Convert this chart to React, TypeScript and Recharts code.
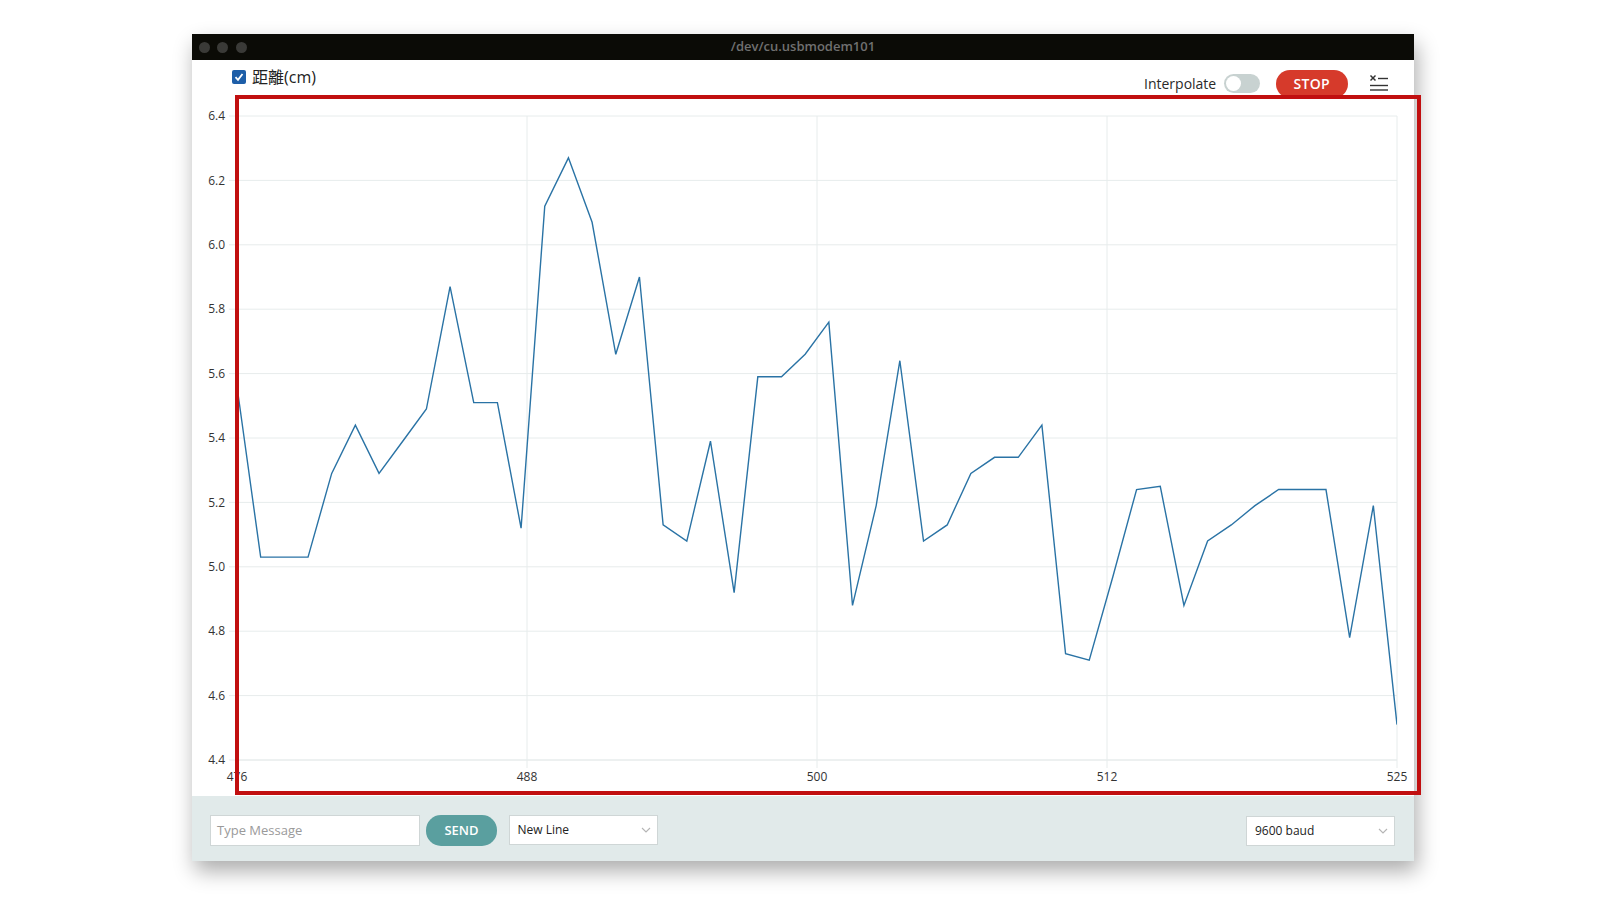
import React from 'react';
import { LineChart, Line, XAxis, YAxis, CartesianGrid } from 'recharts';

const windowTitle = '/dev/cu.usbmodem101';
const seriesName = '距離(cm)';

const xValues = [
  476, 477, 478, 479, 480, 481, 482, 483, 484, 485,
  486, 487, 488, 489, 490, 491, 492, 493, 494, 495,
  496, 497, 498, 499, 500, 501, 502, 503, 504, 505,
  506, 507, 508, 509, 510, 511, 512, 513, 514, 515,
  516, 517, 518, 519, 520, 521, 522, 523, 524, 525,
];

const distanceValues = [
  5.56, 5.03, 5.03, 5.03, 5.29, 5.44, 5.29, 5.39, 5.49, 5.87,
  5.51, 5.51, 5.12, 6.12, 6.27, 6.07, 5.66, 5.9, 5.13, 5.08,
  5.39, 4.92, 5.59, 5.59, 5.66, 5.76, 4.88, 5.19, 5.64, 5.08,
  5.13, 5.29, 5.34, 5.34, 5.44, 4.73, 4.71, 4.97, 5.24, 5.25,
  4.88, 5.08, 5.13, 5.19, 5.24, 5.24, 5.24, 4.78, 5.19, 4.51,
];

const xTicks = [476, 488.25, 500.5, 512.75, 525];
const yTicks = [4.4, 4.6, 4.8, 5.0, 5.2, 5.4, 5.6, 5.8, 6.0, 6.2, 6.4];
const yDomain = [4.4, 6.4];
const xDomain = [476, 525];

const data = xValues.map((x, i) => ({ x, v: distanceValues[i] }));

const GRID = '#e7ecec';
const LINE = '#2a73a5';
const FONT = '"Open Sans", "Noto Sans", sans-serif';

function Chevron({ left, top }: { left: number; top: number }) {
  return (
    <svg style={{ position: 'absolute', left, top }} width={10} height={6}>
      <polyline points="1,1 5,5 9,1" fill="none" stroke="#b5b5b5" strokeWidth={1.1} />
    </svg>
  );
}

export default function App() {
  return (
    <div
      style={{
        position: 'absolute',
        left: 0,
        top: 0,
        width: 1624,
        height: 914,
        background: '#ffffff',
        overflow: 'hidden',
        fontFamily: FONT,
      }}
    >
      {/* window */}
      <div
        style={{
          position: 'absolute',
          left: 192,
          top: 34,
          width: 1222,
          height: 827,
          background: '#ffffff',
          boxShadow: '3px 10px 20px rgba(0,0,0,0.33)',
        }}
      >
        {/* title bar */}
        <div style={{ position: 'absolute', left: 0, top: 0, width: 1222, height: 26, background: '#0b0b06' }}>
          {[12, 30.5, 49].map((cx, i) => (
            <div
              key={i}
              style={{
                position: 'absolute',
                left: cx - 5.5,
                top: 7.5,
                width: 11,
                height: 11,
                borderRadius: 6,
                background: '#3a3a37',
              }}
            />
          ))}
          <div
            style={{
              position: 'absolute',
              left: 0,
              width: 1222,
              top: 0,
              height: 24,
              lineHeight: '24px',
              textAlign: 'center',
              color: '#707070',
              fontSize: 13,
              fontWeight: 600,
            }}
          >
            {windowTitle}
          </div>
        </div>

        {/* legend checkbox */}
        <svg style={{ position: 'absolute', left: 40, top: 36 }} width={14} height={14}>
          <rect x={0} y={0} width={14} height={14} rx={2} fill="#1d5ea8" />
          <polyline points="3.5,7.2 6,9.8 10.5,4" fill="none" stroke="#ffffff" strokeWidth={1.8} />
        </svg>
        <div
          style={{
            position: 'absolute',
            left: 60,
            top: 30.5,
            height: 24,
            lineHeight: '24px',
            fontSize: 16,
            color: '#222',
            fontFamily: '"Open Sans", "Noto Sans CJK TC", sans-serif',
          }}
        >
          {seriesName}
        </div>

        {/* interpolate */}
        <div
          style={{
            position: 'absolute',
            left: 952,
            top: 39,
            height: 22,
            lineHeight: '22px',
            fontSize: 14,
            color: '#2a2a2a',
          }}
        >
          Interpolate
        </div>
        <div
          style={{
            position: 'absolute',
            left: 1032,
            top: 39.5,
            width: 36,
            height: 19,
            borderRadius: 10,
            background: '#c8d2d1',
          }}
        >
          <div
            style={{
              position: 'absolute',
              left: 2,
              top: 2,
              width: 15,
              height: 15,
              borderRadius: 8,
              background: '#ffffff',
            }}
          />
        </div>

        {/* STOP */}
        <div
          style={{
            position: 'absolute',
            left: 1084,
            top: 35.5,
            width: 71.5,
            height: 28,
            borderRadius: 14,
            background: '#d63a2b',
            color: '#ffffff',
            fontSize: 14,
            fontWeight: 600,
            textAlign: 'center',
            lineHeight: '28px',
            letterSpacing: 0.3,
          }}
        >
          STOP
        </div>

        {/* menu icon */}
        <svg style={{ position: 'absolute', left: 1177, top: 40 }} width={22} height={20}>
          <line x1={1.5} y1={1.5} x2={6.5} y2={6.5} stroke="#333" strokeWidth={1.5} />
          <line x1={6.5} y1={1.5} x2={1.5} y2={6.5} stroke="#333" strokeWidth={1.5} />
          <line x1={9} y1={4.5} x2={19} y2={4.5} stroke="#333" strokeWidth={1.4} />
          <line x1={1} y1={11.5} x2={19} y2={11.5} stroke="#333" strokeWidth={1.4} />
          <line x1={1} y1={16} x2={19} y2={16} stroke="#333" strokeWidth={1.4} />
        </svg>

        {/* chart */}
        <div style={{ position: 'absolute', left: 0, top: 61 }}>
          <LineChart
            width={1222}
            height={700}
            data={data}
            margin={{ top: 21, right: 17, bottom: 0, left: 0 }}
          >
            <CartesianGrid stroke={GRID} strokeWidth={1} />
            <XAxis
              dataKey="x"
              type="number"
              domain={xDomain}
              ticks={xTicks}
              interval={0}
              height={35}
              tickFormatter={(v: number) => String(Math.floor(v))}
              axisLine={{ stroke: GRID }}
              tickLine={{ stroke: GRID }}
              tickSize={8}
              tickMargin={4}
              tick={{ fill: '#333', fontSize: 12, fontFamily: FONT }}
              allowDataOverflow
            />
            <YAxis
              type="number"
              domain={yDomain}
              ticks={yTicks}
              interval={0}
              width={45}
              tickFormatter={(v: number) => v.toFixed(1)}
              axisLine={false}
              tickLine={{ stroke: GRID }}
              tickSize={8}
              tickMargin={4}
              tick={{ fill: '#333', fontSize: 12, fontFamily: FONT }}
              allowDataOverflow
            />
            <Line
              type="linear"
              dataKey="v"
              name={seriesName}
              stroke={LINE}
              strokeWidth={1.4}
              dot={false}
              activeDot={false}
              isAnimationActive={false}
            />
          </LineChart>
        </div>

        {/* bottom panel */}
        <div
          style={{
            position: 'absolute',
            left: 0,
            top: 762,
            width: 1222,
            height: 65,
            background: '#e1eaea',
          }}
        >
          <div
            style={{
              position: 'absolute',
              left: 18,
              top: 19,
              width: 210,
              height: 31,
              boxSizing: 'border-box',
              background: '#fff',
              border: '1px solid #cfd6d6',
              fontSize: 13,
              color: '#9a9a9a',
              lineHeight: '29px',
              paddingLeft: 6,
            }}
          >
            Type Message
          </div>
          <div
            style={{
              position: 'absolute',
              left: 234,
              top: 19,
              width: 71,
              height: 30.5,
              borderRadius: 15,
              background: '#5a9f9f',
              color: '#ffffff',
              fontSize: 13,
              fontWeight: 600,
              textAlign: 'center',
              lineHeight: '30.5px',
            }}
          >
            SEND
          </div>
          <div
            style={{
              position: 'absolute',
              left: 316.5,
              top: 19,
              width: 149,
              height: 30,
              boxSizing: 'border-box',
              background: '#fff',
              border: '1px solid #cfd6d6',
              fontSize: 12,
              color: '#222',
              lineHeight: '28px',
              paddingLeft: 8,
            }}
          >
            New Line
            <Chevron left={131} top={11} />
          </div>
          <div
            style={{
              position: 'absolute',
              left: 1054,
              top: 20,
              width: 149,
              height: 30,
              boxSizing: 'border-box',
              background: '#fff',
              border: '1px solid #cfd6d6',
              fontSize: 12,
              color: '#222',
              lineHeight: '28px',
              paddingLeft: 8,
            }}
          >
            9600 baud
            <Chevron left={131} top={11} />
          </div>
        </div>
      </div>

      {/* red highlight box */}
      <div
        style={{
          position: 'absolute',
          left: 234.5,
          top: 94.5,
          width: 1186,
          height: 700,
          boxSizing: 'border-box',
          border: '4px solid #c10f10',
        }}
      />
    </div>
  );
}
